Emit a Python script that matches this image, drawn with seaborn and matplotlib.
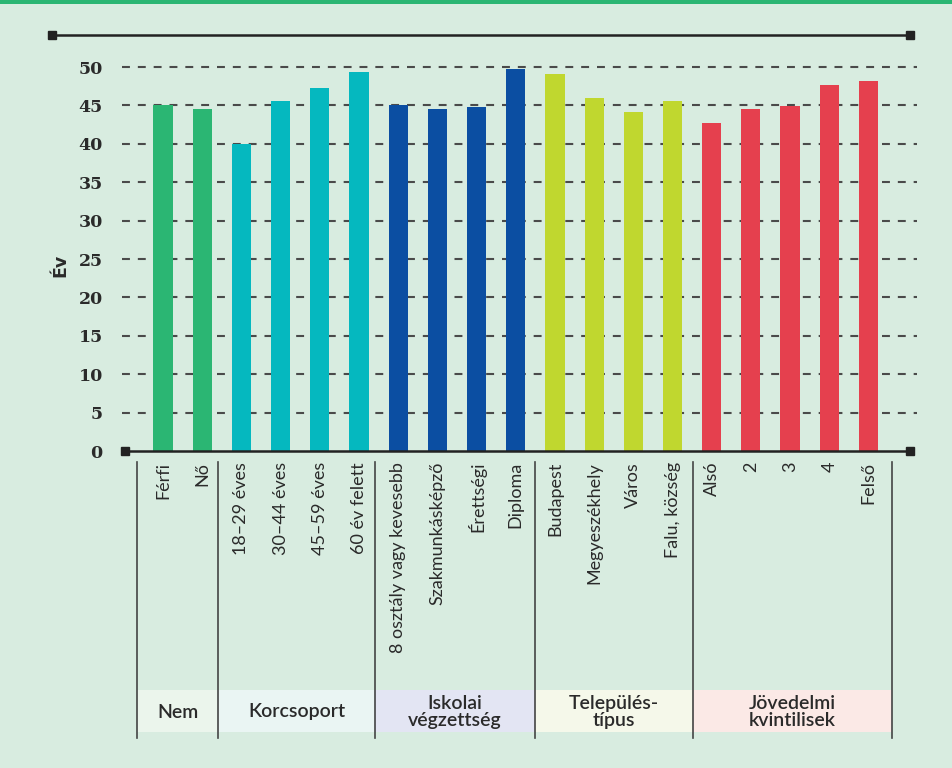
import numpy as np
import pandas as pd
import seaborn as sns
import matplotlib.pyplot as plt
from matplotlib.transforms import blended_transform_factory
from matplotlib.patches import Rectangle

# data
categories = ["Férfi", "Nő",
              "18–29 éves", "30–44 éves", "45–59 éves", "60 év felett",
              "8 osztály vagy kevesebb", "Szakmunkásképző", "Érettségi", "Diploma",
              "Budapest", "Megyeszékhely", "Város", "Falu, község",
              "Alsó", "2", "3", "4", "Felső"]
values = [45.1, 44.5,
          40.0, 45.6, 47.3, 49.3,
          45.1, 44.5, 44.8, 49.7,
          49.1, 46.0, 44.1, 45.6,
          42.7, 44.5, 44.9, 47.7, 48.2]
groups = ["Nem"] * 2 + ["Korcsoport"] * 4 + ["Iskolai"] * 4 + ["Település"] * 4 + ["Jövedelmi"] * 5
group_labels = ["Nem", "Korcsoport", "Iskolai\nvégzettség", "Település-\ntípus", "Jövedelmi\nkvintilisek"]
group_colors = ["#2bb673", "#05b8bf", "#0b4ea2", "#c0d72f", "#e5404e"]
box_colors = ["#ebf5ec", "#eaf5f3", "#e3e5f3", "#f5f8ea", "#fbe9e6"]
bounds = [-0.66, 1.4, 5.42, 9.48, 13.52, 18.6]

bg = "#d8ece0"
df = pd.DataFrame({"cat": categories, "val": values, "grp": groups})

fig = plt.figure(figsize=(9.53, 7.68), dpi=100, facecolor=bg)
W, H = 953, 768
ax = fig.add_axes([125 / W, (H - 451) / H, (910 - 125) / W, (451 - 67) / H])
ax.set_facecolor(bg)

sns.barplot(data=df, x="cat", y="val", hue="grp", palette=group_colors,
            dodge=False, width=0.49, legend=False, saturation=1, ax=ax, zorder=3)

ax.set_xlim(-0.97, 19.06)
ax.set_ylim(0, 50)
ax.set_xlabel("")
ax.set_ylabel("")
for s in ax.spines.values():
    s.set_visible(False)

ax.set_yticks(range(0, 51, 5))
ax.set_yticklabels([str(v) for v in range(0, 51, 5)], fontfamily="DejaVu Serif",
                   fontweight="bold", fontsize=12.5, color="#2a2a2a")
ax.tick_params(axis="y", length=0, pad=16)
ax.set_xticks([])

# dashed gridlines
tr_y = blended_transform_factory(fig.transFigure, ax.transData)
for v in range(5, 51, 5):
    ax.plot([122 / W, 917 / W], [v, v], transform=tr_y, color="#4a4a4a",
            lw=1.5, ls=(0, (3.8, 3.8)), clip_on=False, zorder=1)

# zero line and top line with square ends
ax.plot([125 / W, 910 / W], [0, 0], transform=tr_y, color="#222222", lw=1.8,
        clip_on=False, zorder=4)
ax.plot([125 / W, 910 / W], [0, 0], transform=tr_y, ls="none", marker="s",
        ms=6, color="#222222", clip_on=False, zorder=5)
fig.add_artist(plt.Line2D([52 / W, 910 / W], [1 - 35 / H, 1 - 35 / H], color="#222222", lw=1.8))
fig.add_artist(plt.Line2D([52 / W, 910 / W], [1 - 35 / H, 1 - 35 / H], ls="none",
                          marker="s", ms=6, color="#222222"))

# top green band
fig.add_artist(Rectangle((0, 1 - 4 / H), 1, 4 / H, transform=fig.transFigure,
                         color="#2bb673", lw=0))

fig.text(60 / W, 1 - 265 / H, "Év", rotation=90, ha="center", va="center",
         fontsize=12.5, fontweight="bold", color="#2a2a2a")

# category labels
tr_x = blended_transform_factory(ax.transData, fig.transFigure)
for i, c in enumerate(categories):
    ax.text(i, 1 - 462 / H, c, rotation=90, ha="center", va="top", transform=tr_x,
            fontsize=13, fontfamily="Lato", color="#2a2a2a")

# group boxes and dividers
for k in range(5):
    ax.add_patch(Rectangle((bounds[k], 1 - 732 / H), bounds[k + 1] - bounds[k], 42 / H,
                           transform=tr_x, color=box_colors[k], lw=0, clip_on=False))
    ax.text((bounds[k] + bounds[k + 1]) / 2, 1 - 712 / H, group_labels[k], transform=tr_x,
            ha="center", va="center", fontsize=14, fontweight="semibold",
            fontfamily="Lato", color="#2a2a2a", linespacing=1.0)
for b in bounds:
    ax.plot([b, b], [1 - 462 / H, 1 - 738 / H], transform=tr_x, color="#444444",
            lw=1.2, clip_on=False)

plt.savefig("out.png", dpi=100, facecolor=bg)
